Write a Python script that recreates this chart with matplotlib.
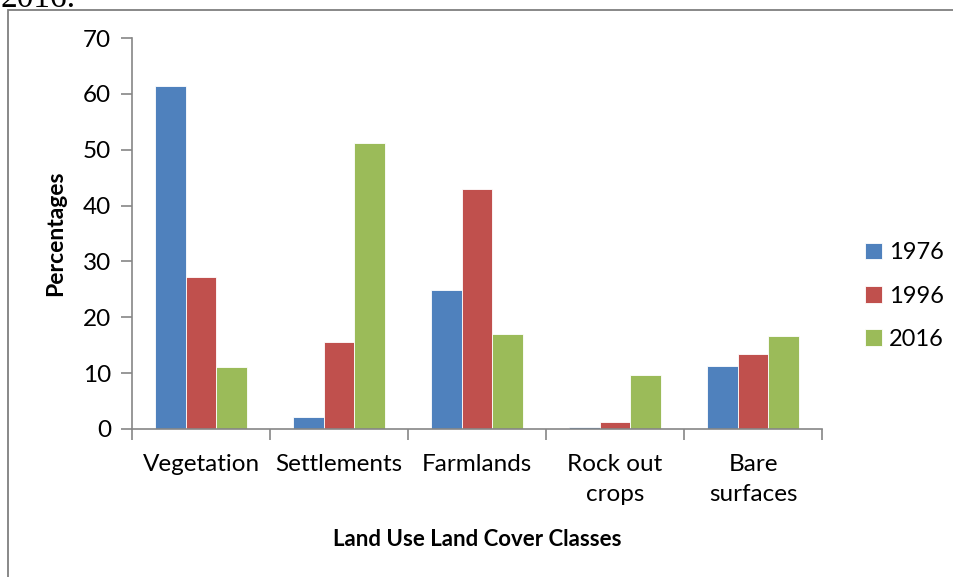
import matplotlib
matplotlib.use("Agg")
import matplotlib.pyplot as plt
import numpy as np
from matplotlib.patches import Rectangle

plt.rcParams['font.family'] = ['Lato', 'DejaVu Sans']

classes = ["Vegetation", "Settlements", "Farmlands", "Rock out\ncrops", "Bare\nsurfaces"]
years = ["1976", "1996", "2016"]
v1976 = [61.4, 2.2, 24.8, 0.3, 11.2]
v1996 = [27.2, 15.5, 43.0, 1.2, 13.4]
v2016 = [11.1, 51.2, 17.0, 9.7, 16.7]
colors = ["#4f81bd", "#c0504d", "#9bbb59"]

fig = plt.figure(figsize=(9.54, 5.77), dpi=100)
ax = fig.add_axes([0.1384, 0.2565, 0.7233, 0.6776])

x = np.arange(len(classes))
w = 1 / 4.5
for i, (vals, yr) in enumerate(zip([v1976, v1996, v2016], years)):
    ax.bar(x + (i - 1) * w, vals, width=w, color=colors[i], label=yr,
           edgecolor="white", linewidth=0.6)

ax.set_xlim(-0.5, len(classes) - 0.5)
ax.set_ylim(0, 70)
ax.set_yticks(range(0, 71, 10))
ax.set_xticks(np.arange(-0.5, len(classes), 1.0))
ax.set_xticklabels([])
ax.set_xticks(x, minor=True)
ax.set_xticklabels(classes, minor=True, fontsize=17.5, linespacing=1.55)
ax.tick_params(axis="x", which="minor", length=0, pad=18)
ax.tick_params(axis="x", which="major", length=8, direction="out", color="#868686", width=1.2)
ax.tick_params(axis="y", length=8, direction="out", color="#868686", width=1.2, labelsize=17.5, pad=7)

for s in ["top", "right"]:
    ax.spines[s].set_visible(False)
for s in ["left", "bottom"]:
    ax.spines[s].set_color("#868686")
    ax.spines[s].set_linewidth(1.2)

ax.set_ylabel("Percentages", fontsize=16.5, fontweight="bold", labelpad=12)
ax.set_xlabel("Land Use Land Cover Classes", fontsize=16, fontweight="bold", labelpad=17)

ax.legend(loc="center left", bbox_to_anchor=(1.032, 0.34), frameon=False, fontsize=17,
          handlelength=0.7, handleheight=0.7, handletextpad=0.3, labelspacing=0.95)

# outer frame of the figure box
fig.patches.append(Rectangle((8 / 954, -0.1), 1.1, (577 - 10) / 577 + 0.1,
                             transform=fig.transFigure, fill=False,
                             edgecolor="#7f7f7f", linewidth=1.3))
# caption text cut by the top edge, as in the source page
fig.text(0.0, 1.003, "2016.", fontsize=24, va="center", ha="left", family="Liberation Serif")

fig.savefig("out.png", dpi=100)
